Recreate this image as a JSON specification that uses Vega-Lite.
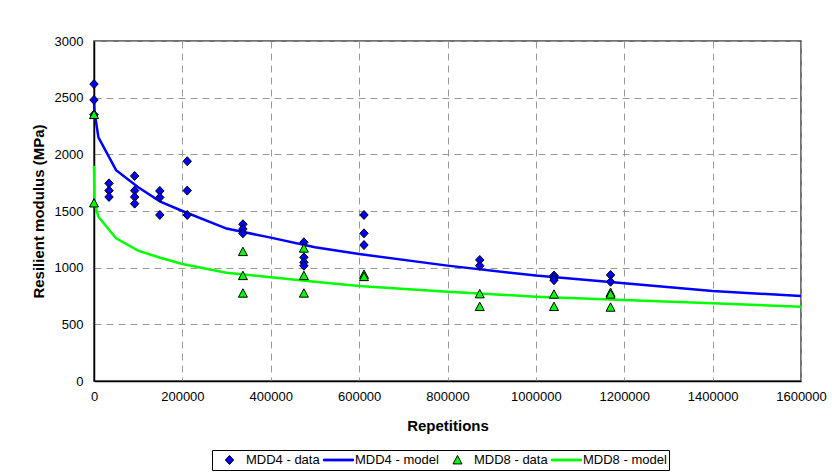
{
  "$schema": "https://vega.github.io/schema/vega-lite/v6.json",
  "width": 707,
  "height": 340,
  "autosize": "none",
  "padding": {"left": 94, "top": 41, "right": 31, "bottom": 94},
  "background": "#ffffff",
  "config": {
    "font": "Liberation Sans",
    "view": {"stroke": "#444444", "strokeWidth": 1.5},
    "axis": {
      "labelFont": "Liberation Sans",
      "labelFontSize": 13,
      "labelColor": "#000000",
      "labelFlush": false,
      "titleFont": "Liberation Sans",
      "titleFontSize": 15,
      "titleFontWeight": "bold",
      "titleColor": "#000000",
      "domainColor": "#000000",
      "domainWidth": 1.5,
      "ticks": false,
      "gridColor": "#9a9a9a",
      "gridDash": [7, 5],
      "gridWidth": 1
    },
    "legend": {
      "labelFont": "Liberation Sans",
      "labelFontSize": 13,
      "labelColor": "#000000",
      "title": null,
      "orient": "none",
      "legendX": 118,
      "legendY": 409,
      "direction": "horizontal",
      "symbolSize": 900,
      "symbolStrokeWidth": 1,
      "symbolOpacity": 1,
      "clipHeight": 16,
      "labelOffset": 1,
      "columnPadding": 3,
      "padding": 2,
      "strokeColor": "#000000",
      "fillColor": "#ffffff"
    }
  },
  "data": {
    "values": [
      {"series": "MDD4 - data", "N": 0, "M": 2620},
      {"series": "MDD4 - data", "N": 0, "M": 2480},
      {"series": "MDD4 - data", "N": 0, "M": 2350},
      {"series": "MDD4 - data", "N": 34000, "M": 1744},
      {"series": "MDD4 - data", "N": 34000, "M": 1680},
      {"series": "MDD4 - data", "N": 34000, "M": 1624},
      {"series": "MDD4 - data", "N": 92000, "M": 1809},
      {"series": "MDD4 - data", "N": 92000, "M": 1680},
      {"series": "MDD4 - data", "N": 92000, "M": 1624},
      {"series": "MDD4 - data", "N": 92000, "M": 1565},
      {"series": "MDD4 - data", "N": 149000, "M": 1677},
      {"series": "MDD4 - data", "N": 149000, "M": 1620},
      {"series": "MDD4 - data", "N": 149000, "M": 1465},
      {"series": "MDD4 - data", "N": 211000, "M": 1939},
      {"series": "MDD4 - data", "N": 211000, "M": 1680},
      {"series": "MDD4 - data", "N": 211000, "M": 1465},
      {"series": "MDD4 - data", "N": 337000, "M": 1383},
      {"series": "MDD4 - data", "N": 337000, "M": 1341},
      {"series": "MDD4 - data", "N": 337000, "M": 1303},
      {"series": "MDD4 - data", "N": 475000, "M": 1224},
      {"series": "MDD4 - data", "N": 475000, "M": 1091},
      {"series": "MDD4 - data", "N": 475000, "M": 1047},
      {"series": "MDD4 - data", "N": 475000, "M": 1017},
      {"series": "MDD4 - data", "N": 611000, "M": 1465},
      {"series": "MDD4 - data", "N": 611000, "M": 1303},
      {"series": "MDD4 - data", "N": 611000, "M": 1200},
      {"series": "MDD4 - data", "N": 873000, "M": 1068},
      {"series": "MDD4 - data", "N": 873000, "M": 1017},
      {"series": "MDD4 - data", "N": 1041000, "M": 930},
      {"series": "MDD4 - data", "N": 1041000, "M": 910},
      {"series": "MDD4 - data", "N": 1041000, "M": 890},
      {"series": "MDD4 - data", "N": 1169000, "M": 935},
      {"series": "MDD4 - data", "N": 1169000, "M": 876},

      {"series": "MDD8 - data", "N": 0, "M": 2350},
      {"series": "MDD8 - data", "N": 0, "M": 1570},
      {"series": "MDD8 - data", "N": 337000, "M": 1141},
      {"series": "MDD8 - data", "N": 337000, "M": 929},
      {"series": "MDD8 - data", "N": 337000, "M": 774},
      {"series": "MDD8 - data", "N": 475000, "M": 1171},
      {"series": "MDD8 - data", "N": 475000, "M": 929},
      {"series": "MDD8 - data", "N": 475000, "M": 774},
      {"series": "MDD8 - data", "N": 611000, "M": 940},
      {"series": "MDD8 - data", "N": 611000, "M": 920},
      {"series": "MDD8 - data", "N": 873000, "M": 768},
      {"series": "MDD8 - data", "N": 873000, "M": 656},
      {"series": "MDD8 - data", "N": 1041000, "M": 765},
      {"series": "MDD8 - data", "N": 1041000, "M": 656},
      {"series": "MDD8 - data", "N": 1169000, "M": 780},
      {"series": "MDD8 - data", "N": 1169000, "M": 765},
      {"series": "MDD8 - data", "N": 1169000, "M": 650},

      {"series": "MDD4 - model", "N": 0, "M": 2490},
      {"series": "MDD4 - model", "N": 1000, "M": 2380},
      {"series": "MDD4 - model", "N": 10000, "M": 2150},
      {"series": "MDD4 - model", "N": 50000, "M": 1860},
      {"series": "MDD4 - model", "N": 100000, "M": 1710},
      {"series": "MDD4 - model", "N": 150000, "M": 1583},
      {"series": "MDD4 - model", "N": 200000, "M": 1500},
      {"series": "MDD4 - model", "N": 300000, "M": 1345},
      {"series": "MDD4 - model", "N": 400000, "M": 1265},
      {"series": "MDD4 - model", "N": 500000, "M": 1180},
      {"series": "MDD4 - model", "N": 600000, "M": 1120},
      {"series": "MDD4 - model", "N": 800000, "M": 1018},
      {"series": "MDD4 - model", "N": 1000000, "M": 930},
      {"series": "MDD4 - model", "N": 1200000, "M": 862},
      {"series": "MDD4 - model", "N": 1400000, "M": 794},
      {"series": "MDD4 - model", "N": 1600000, "M": 750},

      {"series": "MDD8 - model", "N": 0, "M": 1900},
      {"series": "MDD8 - model", "N": 1000, "M": 1570},
      {"series": "MDD8 - model", "N": 10000, "M": 1450},
      {"series": "MDD8 - model", "N": 50000, "M": 1259},
      {"series": "MDD8 - model", "N": 100000, "M": 1150},
      {"series": "MDD8 - model", "N": 150000, "M": 1088},
      {"series": "MDD8 - model", "N": 200000, "M": 1033},
      {"series": "MDD8 - model", "N": 300000, "M": 955},
      {"series": "MDD8 - model", "N": 400000, "M": 915},
      {"series": "MDD8 - model", "N": 500000, "M": 875},
      {"series": "MDD8 - model", "N": 600000, "M": 838},
      {"series": "MDD8 - model", "N": 800000, "M": 788},
      {"series": "MDD8 - model", "N": 1000000, "M": 744},
      {"series": "MDD8 - model", "N": 1200000, "M": 715},
      {"series": "MDD8 - model", "N": 1400000, "M": 686},
      {"series": "MDD8 - model", "N": 1600000, "M": 656}
    ]
  },
  "encoding": {
    "x": {
      "field": "N",
      "type": "quantitative",
      "scale": {"domain": [0, 1600000], "nice": false},
      "axis": {
        "title": "Repetitions",
        "values": [0, 200000, 400000, 600000, 800000, 1000000, 1200000, 1400000, 1600000],
        "format": "d",
        "labelPadding": 9,
        "titlePadding": 15
      }
    },
    "y": {
      "field": "M",
      "type": "quantitative",
      "scale": {"domain": [0, 3000], "nice": false},
      "axis": {
        "title": "Resilient modulus (MPa)",
        "values": [0, 500, 1000, 1500, 2000, 2500, 3000],
        "format": "d",
        "labelPadding": 11,
        "titlePadding": 8
      }
    }
  },
  "layer": [
    {
      "transform": [{"filter": "indexof(datum.series, 'model') >= 0"}],
      "mark": {"type": "line", "strokeWidth": 2.5, "clip": false},
      "encoding": {
        "stroke": {"field": "series", "type": "nominal"}
      }
    },
    {
      "transform": [{"filter": "indexof(datum.series, 'data') >= 0"}],
      "mark": {"type": "point", "filled": true, "size": 900, "strokeWidth": 1, "opacity": 1, "clip": false},
      "encoding": {
        "fill": {
          "field": "series",
          "type": "nominal",
          "scale": {
            "domain": ["MDD4 - data", "MDD4 - model", "MDD8 - data", "MDD8 - model"],
            "range": ["#0000ff", "#0000ff", "#00ff00", "#00ff00"]
          }
        },
        "stroke": {
          "field": "series",
          "type": "nominal",
          "scale": {
            "domain": ["MDD4 - data", "MDD4 - model", "MDD8 - data", "MDD8 - model"],
            "range": ["#000000", "#0000ff", "#000000", "#00ff00"]
          }
        },
        "shape": {
          "field": "series",
          "type": "nominal",
          "scale": {
            "domain": ["MDD4 - data", "MDD4 - model", "MDD8 - data", "MDD8 - model"],
            "range": [
              "M0,-0.3L0.28,0L0,0.3L-0.28,0Z",
              "M-1,-0.06L1,-0.06L1,0.06L-1,0.06Z",
              "M0,-0.3L0.3,0.26L-0.3,0.26Z",
              "M-1,-0.06L1,-0.06L1,0.06L-1,0.06Z"
            ]
          }
        }
      }
    }
  ]
}
